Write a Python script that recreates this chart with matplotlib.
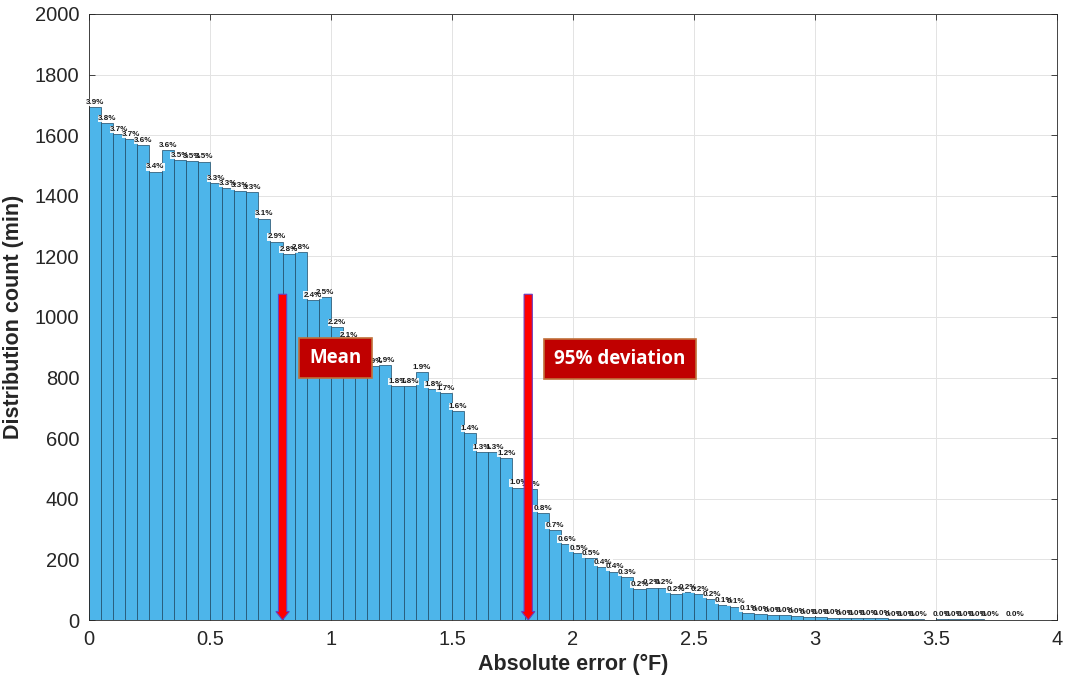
import numpy as np
import matplotlib
matplotlib.use("Agg")
import matplotlib.pyplot as plt

# histogram of absolute error, bin width 0.05 F
bin_width = 0.05
counts = [1692, 1639, 1604, 1586, 1568, 1480, 1551, 1518, 1515, 1513,
          1441, 1425, 1417, 1413, 1325, 1249, 1207, 1215, 1057, 1066,
          967, 925, 880, 838, 842, 772, 772, 818, 762, 750,
          689, 617, 553, 553, 535, 437, 432, 352, 297, 251,
          222, 203, 175, 160, 141, 102, 107, 107, 85, 91,
          85, 68, 50, 44, 24, 19, 17, 15, 14, 10,
          9, 8, 6, 6, 5, 5, 3, 3, 3, 0,
          2, 2, 2, 2, 1, 0, 1]
mean_err = 0.80
dev95_err = 1.815
arrow_top = 1075

counts = np.array(counts)
edges = np.arange(len(counts) + 1) * bin_width
total = counts.sum()

fig = plt.figure(figsize=(10.68, 6.82), dpi=100)
ax = fig.add_axes([0.0833, 0.0909, 0.9064, 0.8886])

ax.bar(edges[:-1], counts, width=bin_width, align='edge',
       color='#4DB5EA', edgecolor='#1d4a66', linewidth=0.5, zorder=2)

# percent labels: white backing first, then the text on top
for x0, c in zip(edges[:-1], counts):
    if c == 0:
        continue
    s = f"{100 * c / total:.1f}%"
    ax.text(x0 + bin_width / 2, c + 4, s, ha='center', va='bottom',
            fontsize=5.8, fontweight='bold', family='Liberation Sans',
            color='white', alpha=0, zorder=3,
            bbox=dict(fc='white', ec='none', pad=0.2, alpha=0.9))
    ax.text(x0 + bin_width / 2, c + 4, s, ha='center', va='bottom',
            fontsize=5.8, fontweight='bold', family='Liberation Sans',
            color='#1a1a1a', zorder=4)

# arrows
for xa in (mean_err, dev95_err):
    ax.arrow(xa, arrow_top, 0, -arrow_top, width=0.034, head_width=0.055,
             head_length=28, length_includes_head=True,
             fc='#FF0000', ec='#6A3DBF', lw=0.8, zorder=5)

box = dict(boxstyle='square,pad=0.55', fc='#C00000', ec='#C0703A', lw=1.2)
ax.text(1.017, 865, 'Mean', ha='center', va='center', color='white',
        fontsize=13.5, fontweight='bold', family='Open Sans', bbox=box, zorder=6)
ax.text(2.193, 861, '95% deviation', ha='center', va='center', color='white',
        fontsize=13.5, fontweight='bold', family='Open Sans', bbox=box, zorder=6)

ax.set_xlim(0, 4)
ax.set_ylim(0, 2000)
ax.set_xticks(np.arange(0, 4.01, 0.5))
ax.set_xticklabels(['0', '0.5', '1', '1.5', '2', '2.5', '3', '3.5', '4'])
ax.set_yticks(np.arange(0, 2001, 200))
ax.tick_params(direction='in', length=4, width=0.6,
               colors='#262626', top=True, right=True, pad=7)
for lab in ax.get_xticklabels() + ax.get_yticklabels():
    lab.set_family('Liberation Sans')
    lab.set_fontsize(14.5)
ax.grid(True, color='#E3E3E3', lw=0.7, zorder=0)
ax.set_axisbelow(True)
for s in ax.spines.values():
    s.set_color('#262626')
    s.set_linewidth(0.6)

ax.set_xlabel('Absolute error (°F)', fontsize=15.5, fontweight='bold',
              family='Liberation Sans', color='#262626', labelpad=4)
ax.set_ylabel('Distribution count (min)', fontsize=15.5, fontweight='bold',
              family='Liberation Sans', color='#262626', labelpad=8)

fig.savefig('out.png', dpi=100)
